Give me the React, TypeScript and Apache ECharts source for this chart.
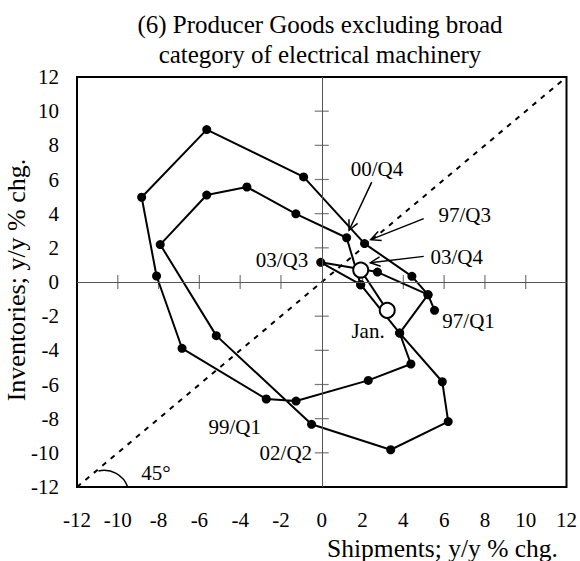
import React, { useEffect, useRef } from 'react';
import * as echarts from 'echarts';

// Quarterly path (y/y % chg.), in drawing order
const shipments = [5.53, 5.21, 4.42, 2.10, -0.89, -5.64, -8.83, -8.10, -6.85, -2.72, -1.26, 2.28, 4.37, 3.82, 5.21, 2.73, -0.05, 1.91, 3.82, 5.91, 6.20, 3.38, -0.50, -5.17, -7.92, -5.64, -3.67, -1.27, 1.22, 1.91];
const inventories = [-1.66, -0.74, 0.33, 2.25, 6.15, 8.92, 4.96, 0.35, -3.88, -6.85, -6.97, -5.76, -4.80, -2.99, -0.74, 0.58, 1.15, -0.16, -2.99, -5.84, -8.17, -9.82, -8.33, -3.14, 2.19, 5.09, 5.56, 3.99, 2.59, -0.16];

// Latest (open circle) points: 03/Q4 and Jan.
const latestShipments = [1.91, 3.21];
const latestInventories = [0.70, -1.66];

// Axis range and inner tick values
const axisMin = -12;
const axisMax = 12;
const axisStep = 2;
const innerTicks = [-10, -8, -6, -4, -2, 2, 4, 6, 8, 10];

// Annotations (data coordinates)
const labelTexts = ['00/Q4', '97/Q3', '03/Q4', '03/Q3', '97/Q1', 'Jan.', '99/Q1', '02/Q2', '45°'];
const labelX = [2.71, 7.01, 6.62, -1.95, 7.20, 2.27, -4.27, -1.76, -8.13];
const labelY = [6.60, 3.91, 1.46, 1.27, -2.27, -2.86, -8.48, -10.03, -11.2];
const arrowFromX = [2.45, 5.00, 5.00];
const arrowFromY = [5.85, 3.71, 1.50];
const arrowToX = [1.34, 2.40, 2.38];
const arrowToY = [3.03, 2.48, 1.13];

const FONT = 'Liberation Serif';

export default function App() {
  const ref = useRef<HTMLDivElement>(null);
  useEffect(() => {
    if (!ref.current) return;
    const chart = echarts.init(ref.current, undefined, { renderer: 'svg' });
    const path = shipments.map((x, i) => [x, inventories[i]]);
    const latest = latestShipments.map((x, i) => [x, latestInventories[i]]);
    const xTicks = innerTicks.map((v) => [v, 0]);
    const yTicks = innerTicks.map((v) => [0, v]);
    const axisCommon = {
      type: 'value' as const,
      min: axisMin,
      max: axisMax,
      interval: axisStep,
      axisLine: { show: false },
      axisTick: { show: false },
      splitLine: { show: false },
    };
    chart.setOption({
      animation: false,
      grid: {
        left: 77, top: 77, width: 491, height: 410,
        show: true, borderColor: '#000', borderWidth: 2, backgroundColor: 'transparent',
      },
      xAxis: {
        ...axisCommon,
        axisLabel: { fontSize: 21, fontFamily: FONT, color: '#000', margin: 22 },
      },
      yAxis: {
        ...axisCommon,
        axisLabel: { fontSize: 21, fontFamily: FONT, color: '#000', margin: 18 },
      },
      series: [
        {
          type: 'line',
          data: [[axisMin, axisMin], [axisMax, axisMax]],
          symbol: 'none',
          lineStyle: { color: '#000', width: 2, type: [5, 6] },
          z: 1,
          silent: true,
          markLine: {
            silent: true,
            symbol: ['none', 'none'],
            label: { show: false },
            lineStyle: { color: '#555', width: 1, type: 'solid' },
            data: [{ xAxis: 0 }, { yAxis: 0 }],
          },
        },
        {
          type: 'scatter',
          data: xTicks,
          symbol: 'rect',
          symbolSize: [1.2, 14],
          itemStyle: { color: '#555' },
          z: 1,
          silent: true,
        },
        {
          type: 'scatter',
          data: yTicks,
          symbol: 'rect',
          symbolSize: [14, 1.2],
          itemStyle: { color: '#555' },
          z: 1,
          silent: true,
        },
        {
          type: 'line',
          data: path,
          symbol: 'circle',
          symbolSize: 9,
          showAllSymbol: true,
          itemStyle: { color: '#000' },
          lineStyle: { color: '#000', width: 2 },
          z: 3,
        },
        {
          type: 'line',
          data: latest,
          symbol: 'circle',
          symbolSize: 15,
          itemStyle: { color: '#fff', borderColor: '#000', borderWidth: 2 },
          lineStyle: { color: '#000', width: 2 },
          z: 4,
        },
      ],
    });

    const cp = (x: number, y: number) => chart.convertToPixel({ gridIndex: 0 }, [x, y]) as number[];
    const textStyle = (text: string, x: number, y: number, size: number, align = 'center') => ({
      text, x, y, fill: '#000', fontSize: size, fontFamily: FONT,
      align, verticalAlign: 'middle', textAlign: align, textVerticalAlign: 'middle',
    });
    const elements: any[] = [];
    labelTexts.forEach((t, i) => {
      const p = cp(labelX[i], labelY[i]);
      elements.push({ type: 'text', z: 10, style: textStyle(t, p[0], p[1], 21) });
    });
    arrowFromX.forEach((_, i) => {
      const p0 = cp(arrowFromX[i], arrowFromY[i]);
      const p1 = cp(arrowToX[i], arrowToY[i]);
      const dx = p1[0] - p0[0];
      const dy = p1[1] - p0[1];
      const len = Math.hypot(dx, dy);
      const ux = dx / len;
      const uy = dy / len;
      const L = 11;
      const back = (a: number) => [
        p1[0] - L * (ux * Math.cos(a) - uy * Math.sin(a)),
        p1[1] - L * (uy * Math.cos(a) + ux * Math.sin(a)),
      ];
      elements.push({ type: 'line', z: 10, shape: { x1: p0[0], y1: p0[1], x2: p1[0], y2: p1[1] }, style: { stroke: '#000', lineWidth: 1.5 } });
      elements.push({ type: 'polyline', z: 10, shape: { points: [back(0.45), p1, back(-0.45)] }, style: { stroke: '#000', lineWidth: 1.5, fill: null } });
    });
    // 45° arc at lower-left
    const c = cp(-10.67, -12.49);
    elements.push({ type: 'arc', z: 10, shape: { cx: c[0], cy: c[1], r: 25, startAngle: -1.8, endAngle: -0.34, clockwise: true }, style: { stroke: '#000', lineWidth: 1.5, fill: null } });
    // titles
    elements.push({ type: 'text', z: 10, style: textStyle('(6) Producer Goods excluding broad', 320, 24, 25) });
    elements.push({ type: 'text', z: 10, style: textStyle('category of electrical machinery', 320, 54, 25) });
    elements.push({ type: 'text', z: 10, style: textStyle('Shipments; y/y % chg.', 558, 548, 25.5, 'right') });
    elements.push({ type: 'text', z: 10, x: 16, y: 280, rotation: Math.PI / 2, style: textStyle('Inventories; y/y % chg.', 0, 0, 26) });
    chart.setOption({ graphic: { elements } });

    return () => chart.dispose();
  }, []);
  return <div ref={ref} style={{ position: 'absolute', left: 0, top: 0, width: 580, height: 561 }} />;
}
